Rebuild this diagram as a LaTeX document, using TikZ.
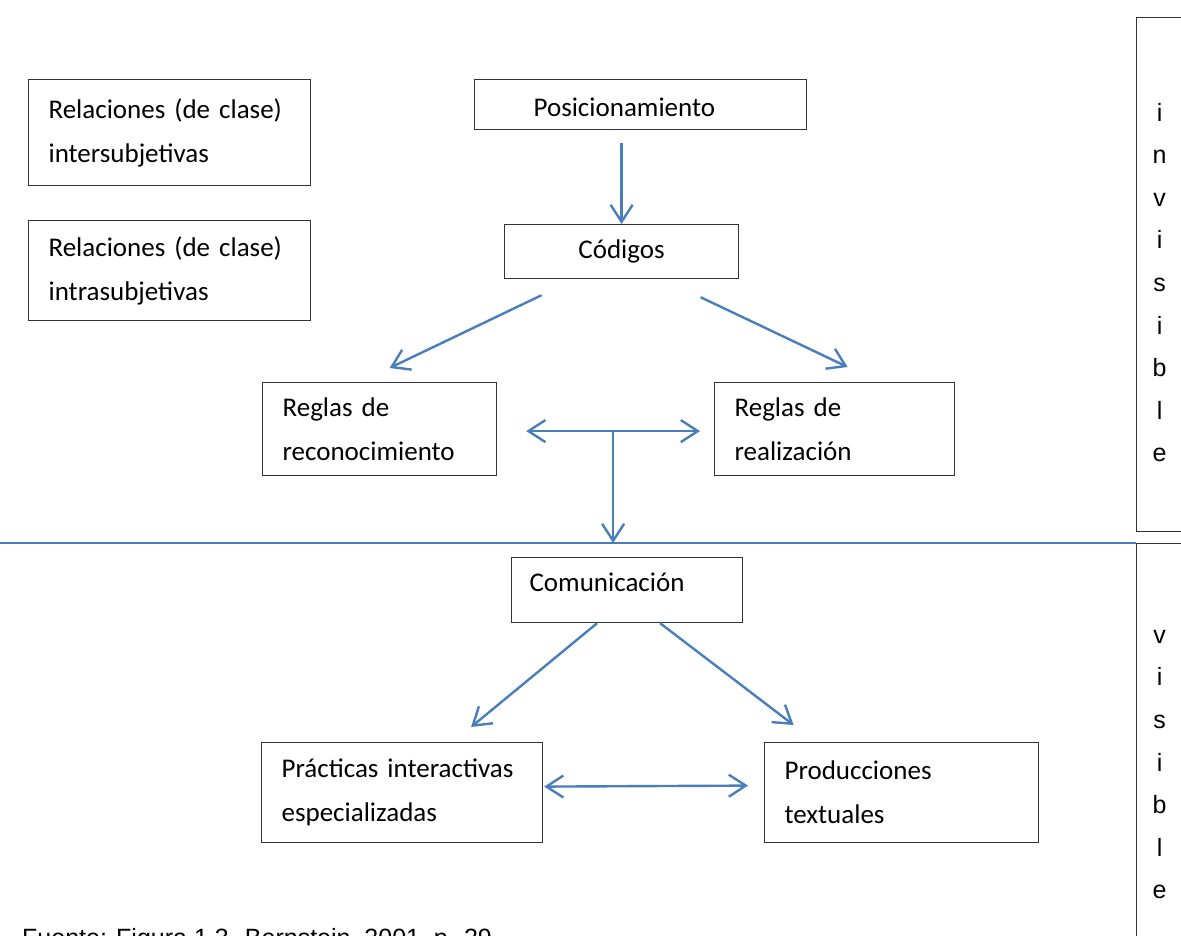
\documentclass[tikz,border=0pt]{standalone}
\usepackage{fontspec}
\usepackage{xcolor}
\usepackage{tikz}
\usetikzlibrary{calc,arrows.meta}
\newfontfamily\calibri{Carlito}
\newfontfamily\arial{Liberation Sans}
\definecolor{azul}{HTML}{4A7EBB}
\tikzset{
  caja/.style={draw=black!80, line width=1.2pt, anchor=north west, inner ysep=0pt, align=left,
    font=\calibri\fontsize{27}{44}\selectfont},
  letras/.style={draw=black!80, line width=1.2pt, anchor=north west, inner sep=0pt, align=center,
    font=\arial\fontsize{25}{42.6}\selectfont},
  flecha/.style={azul, line width=2.4pt, -{Straight Barb[length=17pt,width=22pt]}},
  dflecha/.style={flecha, {Straight Barb[length=17pt,width=22pt]}-{Straight Barb[length=17pt,width=22pt]}},
}

\begin{document}
\begin{tikzpicture}[x=1pt,y=-1pt]
  \useasboundingbox (0,0) rectangle (1181,936);

  \node[caja, text width=242pt, inner xsep=20pt, minimum height=106pt] (inter) at (28,79) {Relaciones (de clase)\\intersubjetivas};
  \node[caja, text width=242pt, inner xsep=20pt, minimum height=100pt] (intra) at (28,220) {Relaciones (de clase)\\intrasubjetivas};
  \node[caja, text width=214pt, inner xsep=59pt, minimum height=50pt, text height=24pt] (posic) at (474,79) {Posicionamiento};
  \node[caja, align=center, minimum width=234pt, minimum height=54pt] (codigos) at (504,224) {Códigos};
  \node[caja, text width=194pt, inner xsep=20pt, minimum height=93pt] (recon) at (262,382) {Reglas de\\reconocimiento};
  \node[caja, text width=200pt, inner xsep=20pt, minimum height=93pt] (realiz) at (714,382) {Reglas de\\realización};
  \node[caja, text width=195pt, inner xsep=18pt, minimum height=65pt, text depth=15pt] (comun) at (511,557) {Comunicación};
  \node[caja, text width=241pt, inner xsep=20pt, minimum height=100pt] (practicas) at (261,742) {Prácticas interactivas\\especializadas};
  \node[caja, text width=234pt, inner xsep=20pt, minimum height=100pt] (produc) at (764,742) {Producciones\\textuales};

  \node[letras, minimum width=46pt, minimum height=514pt, text height=375pt] (invis) at (1136,17) {i\\n\\v\\i\\s\\i\\b\\l\\e};
  \node[letras, minimum width=46pt, minimum height=442pt] (visib) at (1136,543) {v\\i\\s\\i\\b\\l\\e};

  \coordinate (borde) at (0,543);
  \draw[azul, line width=1.5pt] (borde) -- (visib.north west);

  \draw[flecha] ($(codigos.north)+(0,-81)$) -- (codigos.north);
  \draw[flecha] ($(codigos.south)+(-80,16)$) -- ($(recon.north)+(10,-14)$);
  \draw[flecha] ($(codigos.south)+(79,18)$) -- ($(realiz.north)+(13,-15)$);
  \coordinate (izq) at ($(recon.east)+(29,2)$);
  \coordinate (der) at ($(realiz.west)+(-14,2)$);
  \coordinate (medio) at ($(izq)!0.5!(der)$);
  \draw[dflecha] (izq) -- (der);
  \draw[flecha] (medio) -- (medio |- borde);
  \draw[flecha] ($(comun.south)+(-30,0)$) -- ($(practicas.north)+(69,-15)$);
  \draw[flecha] ($(comun.south)+(33,0)$) -- ($(produc.north)+(-108,-17)$);
  \draw[dflecha] ($(practicas.east)+(1,-6)$) -- ($(produc.west)+(-16,-7)$);

  \node[font=\arial\fontsize{25}{30}\selectfont, anchor=base west, inner sep=0pt] (fuente) at (22,946) {Fuente: Figura 1.3. Bernstein, 2001, p. 29};
\end{tikzpicture}
\end{document}
